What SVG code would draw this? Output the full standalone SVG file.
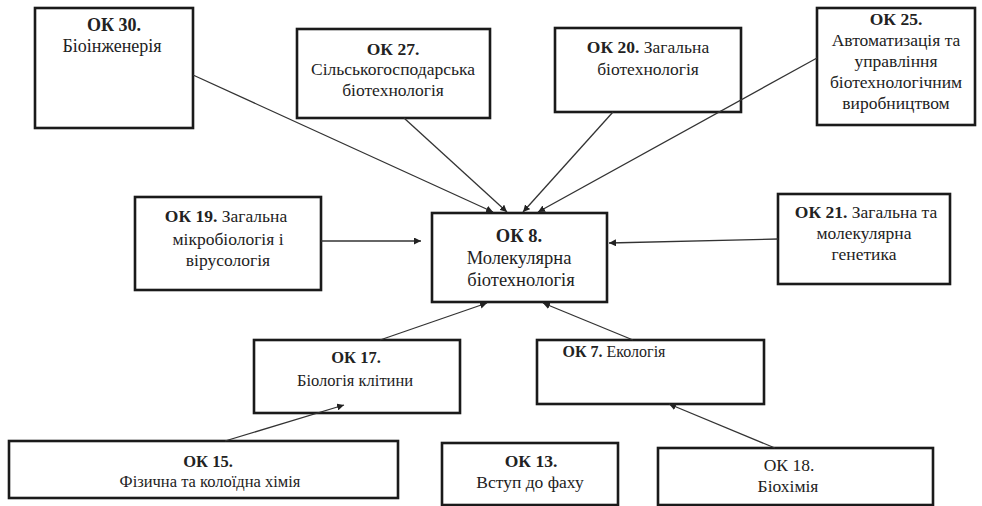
<svg xmlns="http://www.w3.org/2000/svg" width="982" height="506" viewBox="0 0 982 506">
<defs>
<style>
.box{fill:#fff;stroke:#1a1a1a;stroke-width:2.6}
text{font-family:'Liberation Serif', serif;font-size:17.5px;fill:#222;text-anchor:middle}
.b{font-weight:bold}
.c{stroke:#333;stroke-width:1.3;fill:none;marker-end:url(#ah)}
</style>
<marker id="ah" viewBox="0 0 10 10" refX="10" refY="5" markerWidth="7" markerHeight="7" markerUnits="userSpaceOnUse" orient="auto">
<path d="M0,0 L10,5 L0,10 z" fill="#222"/>
</marker>
</defs>
<rect width="982" height="506" fill="#fff"/>
<g font-family="Liberation Serif, serif">
<g id="ok30" font-size="18"><rect class="box" x="35" y="8" width="158" height="120"/>
<text class="b" x="114" y="31" style="font-size:18px">ОК 30.</text><text x="112" y="52" style="font-size:18px">Біоінженерія</text></g>
<g id="ok27"><rect class="box" x="297" y="29" width="193" height="89"/>
<text class="b" x="393" y="55">ОК 27.</text><text x="393" y="75">Сільськогосподарська</text><text x="393" y="96">біотехнологія</text></g>
<g id="ok20"><rect class="box" x="555" y="28" width="186" height="84"/>
<text x="648" y="53"><tspan class="b">ОК 20.</tspan> Загальна</text><text x="648" y="75">біотехнологія</text></g>
<g id="ok25"><rect class="box" x="817" y="8" width="158" height="117"/>
<text class="b" x="896" y="25">ОК 25.</text><text x="896" y="46">Автоматизація та</text><text x="896" y="67">управління</text><text x="896" y="88">біотехнологічним</text><text x="896" y="109">виробництвом</text></g>
<g id="ok19"><rect class="box" x="135" y="197" width="186" height="93"/>
<text x="226" y="222"><tspan class="b">ОК 19.</tspan> Загальна</text><text x="228" y="245">мікробіологія і</text><text x="228" y="266">вірусологія</text></g>
<g id="ok8"><rect class="box" x="432" y="213" width="175" height="89"/>
<text class="b" x="519" y="242" style="font-size:18.5px">ОК 8.</text><text x="519" y="264" style="font-size:18.5px">Молекулярна</text><text x="521" y="286" style="font-size:18.5px">біотехнологія</text></g>
<g id="ok21"><rect class="box" x="778" y="194" width="172" height="90"/>
<text x="866" y="218"><tspan class="b">ОК 21.</tspan> Загальна та</text><text x="864" y="239">молекулярна</text><text x="864" y="260">генетика</text></g>
<g id="ok17"><rect class="box" x="254" y="340" width="206" height="73"/>
<text class="b" x="356" y="363" style="font-size:16.5px">ОК 17.</text><text x="355" y="386" style="font-size:16.5px">Біологія клітини</text></g>
<g id="ok7"><rect class="box" x="537" y="340" width="227" height="64"/>
<text x="614" y="357" style="font-size:16px"><tspan class="b">ОК 7.</tspan> Екологія</text></g>
<g id="ok15"><rect class="box" x="9" y="441" width="389" height="57"/>
<text class="b" x="208" y="467" style="font-size:16.5px">ОК 15.</text><text x="210" y="487" style="font-size:16.5px">Фізична та колоїдна хімія</text></g>
<g id="ok13"><rect class="box" x="442" y="443" width="176" height="62"/>
<text class="b" x="531" y="467">ОК 13.</text><text x="530" y="488">Вступ до фаху</text></g>
<g id="ok18"><rect class="box" x="658" y="448" width="275" height="57"/>
<text x="789" y="471">ОК 18.</text><text x="788" y="492">Біохімія</text></g>
</g>
<g id="connectors">
<line class="c" x1="193" y1="75" x2="493" y2="212"/>
<line class="c" x1="404" y1="118" x2="507" y2="212"/>
<line class="c" x1="613" y1="112" x2="523" y2="212"/>
<line class="c" x1="817" y1="58" x2="538" y2="212"/>
<line class="c" x1="321" y1="241" x2="421" y2="241"/>
<line class="c" x1="778" y1="239" x2="609" y2="243"/>
<line class="c" x1="380" y1="340" x2="487" y2="303"/>
<line class="c" x1="633" y1="340" x2="543" y2="303"/>
<line class="c" x1="225" y1="441" x2="344" y2="405"/>
<line class="c" x1="775" y1="448" x2="669" y2="404"/>
</g>
</svg>
